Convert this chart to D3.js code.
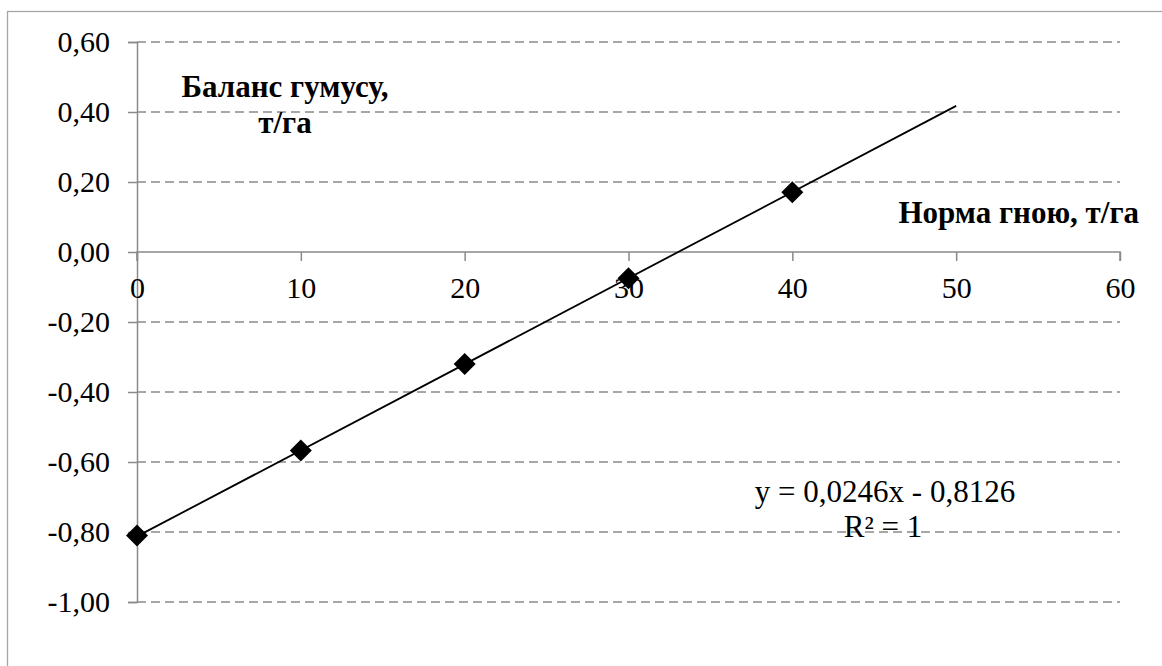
<!DOCTYPE html>
<html>
<head>
<meta charset="utf-8">
<script src="https://cdn.jsdelivr.net/npm/d3@7"></script>
<style>
  html, body { margin: 0; padding: 0; background: #fff; }
  svg { display: block; }
  svg text { font-family: "Liberation Serif", "Times New Roman", "DejaVu Serif", serif; }
</style>
</head>
<body>
<svg id="chart" width="1162" height="666"></svg>
<script>
// ---- data ----
const xValues = [0, 10, 20, 30, 40];
const yValues = [-0.81, -0.567, -0.32, -0.075, 0.171];
const trendX = [0, 50];
const trendY = [-0.8126, 0.4174];
const xTicks = [0, 10, 20, 30, 40, 50, 60];
const xTickLabels = ["0", "10", "20", "30", "40", "50", "60"];
const yTicks = [0.6, 0.4, 0.2, 0, -0.2, -0.4, -0.6, -0.8, -1.0];
const yTickLabels = ["0,60", "0,40", "0,20", "0,00", "-0,20", "-0,40", "-0,60", "-0,80", "-1,00"];
const yTitle = ["Баланс гумусу,", "т/га"];
const xTitle = "Норма гною, т/га";
const equation = "y = 0,0246x - 0,8126";
const rSquared = "R² = 1";

// ---- layout ----
const svg = d3.select("#chart");
const x = d3.scaleLinear().domain([0, 60]).range([137, 1120]);
const y = d3.scaleLinear().domain([-1, 0.6]).range([602, 42]);
const axisColor = "#8a8a8a";

svg.append("rect")
  .attr("x", 7.5).attr("y", 11.5).attr("width", 1300).attr("height", 800)
  .attr("fill", "none").attr("stroke", "#a6a6a6").attr("stroke-width", 1.3);

svg.append("g").selectAll("line")
  .data(yTicks.filter(d => d !== 0))
  .join("line")
  .attr("x1", x(0)).attr("x2", x(60))
  .attr("y1", d => y(d)).attr("y2", d => y(d))
  .attr("stroke", axisColor).attr("stroke-width", 1.5)
  .attr("stroke-dasharray", "9,5");

const yAxis = d3.axisLeft(y)
  .tickValues(yTicks)
  .tickSize(9)
  .tickPadding(18)
  .tickFormat((d, i) => yTickLabels[i]);
const gy = svg.append("g").attr("transform", `translate(${x(0)},0)`).call(yAxis);
gy.attr("font-family", null);
gy.select(".domain").attr("stroke", axisColor).attr("stroke-width", 1.5);
gy.selectAll(".tick line").attr("stroke", axisColor).attr("stroke-width", 1.5);
gy.selectAll(".tick text").attr("font-size", 30).attr("fill", "#000");

const xAxis = d3.axisBottom(x)
  .tickValues(xTicks)
  .tickSize(9)
  .tickPadding(16)
  .tickFormat((d, i) => xTickLabels[i]);
const gx = svg.append("g").attr("transform", `translate(0,${y(0)})`).call(xAxis);
gx.attr("font-family", null);
gx.select(".domain").attr("stroke", axisColor).attr("stroke-width", 1.5)
  .attr("d", `M${x(0)},9V0H${x(60)}V9`);
gx.selectAll(".tick line").attr("stroke", axisColor).attr("stroke-width", 1.5);
gx.selectAll(".tick text").attr("font-size", 30).attr("fill", "#000");

svg.append("line")
  .attr("x1", x(trendX[0])).attr("y1", y(trendY[0]))
  .attr("x2", x(trendX[1])).attr("y2", y(trendY[1]))
  .attr("stroke", "#000").attr("stroke-width", 1.8);

const diamond = d3.symbol().type(d3.symbolSquare).size(242);
svg.append("g").selectAll("path")
  .data(xValues.map((v, i) => [v, yValues[i]]))
  .join("path")
  .attr("d", diamond)
  .attr("transform", d => `translate(${x(d[0])},${y(d[1])}) rotate(45)`)
  .attr("fill", "#000");

const yt = svg.append("text")
  .attr("x", 285).attr("y", 97)
  .attr("text-anchor", "middle")
  .attr("font-size", 31).attr("font-weight", "bold").attr("fill", "#000");
yt.selectAll("tspan").data(yTitle).join("tspan")
  .attr("x", 285).attr("dy", (d, i) => i === 0 ? 0 : 36)
  .text(d => d);

svg.append("text")
  .attr("x", 1139).attr("y", 223)
  .attr("text-anchor", "end")
  .attr("font-size", 31).attr("font-weight", "bold").attr("fill", "#000")
  .text(xTitle);

svg.append("text")
  .attr("x", 885).attr("y", 502)
  .attr("text-anchor", "middle")
  .attr("font-size", 31).attr("fill", "#000")
  .text(equation);
svg.append("text")
  .attr("x", 883).attr("y", 537)
  .attr("text-anchor", "middle")
  .attr("font-size", 31).attr("fill", "#000")
  .text(rSquared);
</script>
</body>
</html>
